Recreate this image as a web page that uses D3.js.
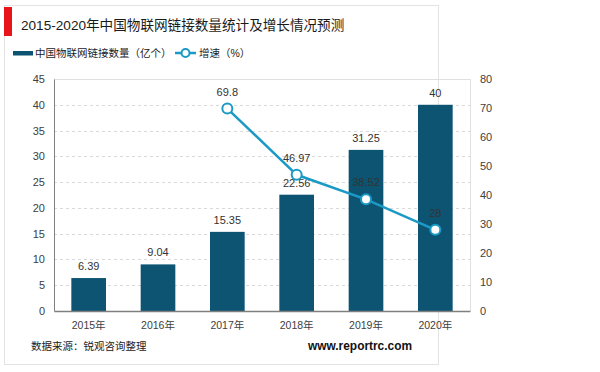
<!DOCTYPE html>
<html>
<head>
<meta charset="utf-8">
<script src="https://cdn.jsdelivr.net/npm/d3@7"></script>
<style>
  body { margin: 0; background: #fff; }
  text { font-family: "Liberation Sans", "Noto Sans CJK SC", sans-serif; }
</style>
</head>
<body>
<div id="chart"></div>
<script>
// data
var years = ["2015年", "2016年", "2017年", "2018年", "2019年", "2020年"];
var connections = [6.39, 9.04, 15.35, 22.56, 31.25, 40];
var growth = [null, null, 69.8, 46.97, 38.52, 28];
var leftTicks = [0, 5, 10, 15, 20, 25, 30, 35, 40, 45];
var rightTicks = [0, 10, 20, 30, 40, 50, 60, 70, 80];

var barColor = "#0d5473",
    lineColor = "#1b9ac6";

var width = 600, height = 372;
var plot = {left: 54, right: 470, top: 79, bottom: 311};

var svg = d3.select("#chart").append("svg")
  .attr("width", width)
  .attr("height", height);

// outer frame
svg.append("rect")
  .attr("x", 4.5).attr("y", 5.5)
  .attr("width", 434).attr("height", 359)
  .attr("fill", "#fff")
  .attr("stroke", "#e3e3e3");

// red marker + title
svg.append("rect")
  .attr("x", 4).attr("y", 7)
  .attr("width", 8).attr("height", 29)
  .attr("fill", "#e8141b");

svg.append("text")
  .attr("x", 21).attr("y", 30)
  .style("font-size", "13.6px")
  .attr("fill", "#1a1a1a")
  .text("2015-2020年中国物联网链接数量统计及增长情况预测");

// legend
svg.append("rect")
  .attr("x", 13).attr("y", 51)
  .attr("width", 20).attr("height", 4.5)
  .attr("fill", barColor);
svg.append("text")
  .attr("x", 35).attr("y", 57)
  .style("font-size", "10.5px")
  .attr("fill", "#222")
  .text("中国物联网链接数量（亿个）");
svg.append("line")
  .attr("x1", 175).attr("x2", 196)
  .attr("y1", 53).attr("y2", 53)
  .attr("stroke", lineColor).attr("stroke-width", 2.5);
svg.append("circle")
  .attr("cx", 185.5).attr("cy", 53).attr("r", 4)
  .attr("fill", "#fff")
  .attr("stroke", lineColor).attr("stroke-width", 2);
svg.append("text")
  .attr("x", 199).attr("y", 57)
  .style("font-size", "10.5px")
  .attr("fill", "#222")
  .text("增速（%）");

// scales
var x = d3.scaleBand()
  .domain(years)
  .range([plot.left, plot.right])
  .paddingInner(0.5)
  .paddingOuter(0.25);

var yL = d3.scaleLinear().domain([0, 45]).range([plot.bottom, plot.top]);
var yR = d3.scaleLinear().domain([0, 80]).range([plot.bottom, plot.top]);

// plot area border (top + right)
svg.append("path")
  .attr("d", "M" + plot.left + "," + (plot.top + 0.5) + "H" + (plot.right + 0.5) + "V" + plot.bottom)
  .attr("fill", "none")
  .attr("stroke", "#e0e0e0");

// grid lines
svg.append("g")
  .selectAll("line")
  .data(leftTicks.filter(function(d) { return d > 0 && d < 45; }))
  .enter().append("line")
  .attr("x1", plot.left).attr("x2", plot.right)
  .attr("y1", function(d) { return Math.round(yL(d)) + 0.5; })
  .attr("y2", function(d) { return Math.round(yL(d)) + 0.5; })
  .attr("stroke", "#d9d9d9")
  .attr("stroke-dasharray", "3,3");

// left axis
var axL = svg.append("g")
  .attr("transform", "translate(" + plot.left + ",0)")
  .call(d3.axisLeft(yL).tickValues(leftTicks).tickSize(0).tickPadding(9));
axL.select(".domain").attr("stroke", "#7f7f7f");
axL.selectAll("text").style("font-size", "11px").attr("fill", "#404040")
  .style("font-family", "Liberation Sans");

// right axis
var axR = svg.append("g")
  .attr("transform", "translate(" + plot.right + ",0)")
  .call(d3.axisRight(yR).tickValues(rightTicks).tickSize(0).tickPadding(10));
axR.select(".domain").remove();
axR.selectAll("text").style("font-size", "11px").attr("fill", "#404040")
  .style("font-family", "Liberation Sans");

// bars
svg.append("g")
  .selectAll("rect")
  .data(connections)
  .enter().append("rect")
  .attr("x", function(d, i) { return x(years[i]); })
  .attr("y", function(d) { return yL(d); })
  .attr("width", x.bandwidth())
  .attr("height", function(d) { return yL(0) - yL(d); })
  .attr("fill", barColor);

// bar labels
svg.append("g")
  .selectAll("text")
  .data(connections)
  .enter().append("text")
  .attr("x", function(d, i) { return x(years[i]) + x.bandwidth() / 2; })
  .attr("y", function(d) { return yL(d) - 8; })
  .attr("text-anchor", "middle")
  .style("font-size", "11px")
  .attr("fill", "#333")
  .text(function(d) { return d; });

// bottom axis
var axB = svg.append("g")
  .attr("transform", "translate(0," + plot.bottom + ")")
  .call(d3.axisBottom(x).tickSize(0).tickPadding(11));
axB.select(".domain").attr("stroke", "#7f7f7f").attr("stroke-width", 1.5);
axB.selectAll("text").style("font-size", "10.5px").attr("fill", "#404040")
  .style("font-family", "Liberation Sans, Noto Sans CJK SC");

// growth line
var pts = growth.map(function(d, i) { return {year: years[i], v: d}; })
  .filter(function(d) { return d.v != null; });

var line = d3.line()
  .x(function(d) { return x(d.year) + x.bandwidth() / 2; })
  .y(function(d) { return yR(d.v); });

svg.append("path")
  .datum(pts)
  .attr("d", line)
  .attr("fill", "none")
  .attr("stroke", lineColor)
  .attr("stroke-width", 2.5);

svg.append("g")
  .selectAll("circle")
  .data(pts)
  .enter().append("circle")
  .attr("cx", function(d) { return x(d.year) + x.bandwidth() / 2; })
  .attr("cy", function(d) { return yR(d.v); })
  .attr("r", 5)
  .attr("fill", "#fff")
  .attr("stroke", lineColor)
  .attr("stroke-width", 2);

svg.append("g")
  .selectAll("text")
  .data(pts)
  .enter().append("text")
  .attr("x", function(d) { return x(d.year) + x.bandwidth() / 2; })
  .attr("y", function(d) { return yR(d.v) - 13; })
  .attr("text-anchor", "middle")
  .style("font-size", "11px")
  .attr("fill", "#333")
  .text(function(d) { return d.v; });

// footer
svg.append("text")
  .attr("x", 31).attr("y", 350)
  .style("font-size", "10.5px")
  .attr("fill", "#222")
  .text("数据来源：锐观咨询整理");

svg.append("text")
  .attr("x", 412).attr("y", 350)
  .attr("text-anchor", "end")
  .style("font-size", "12px")
  .style("font-weight", "bold")
  .attr("fill", "#111")
  .attr("textLength", 104)
  .attr("lengthAdjust", "spacingAndGlyphs")
  .text("www.reportrc.com");
</script>
</body>
</html>
